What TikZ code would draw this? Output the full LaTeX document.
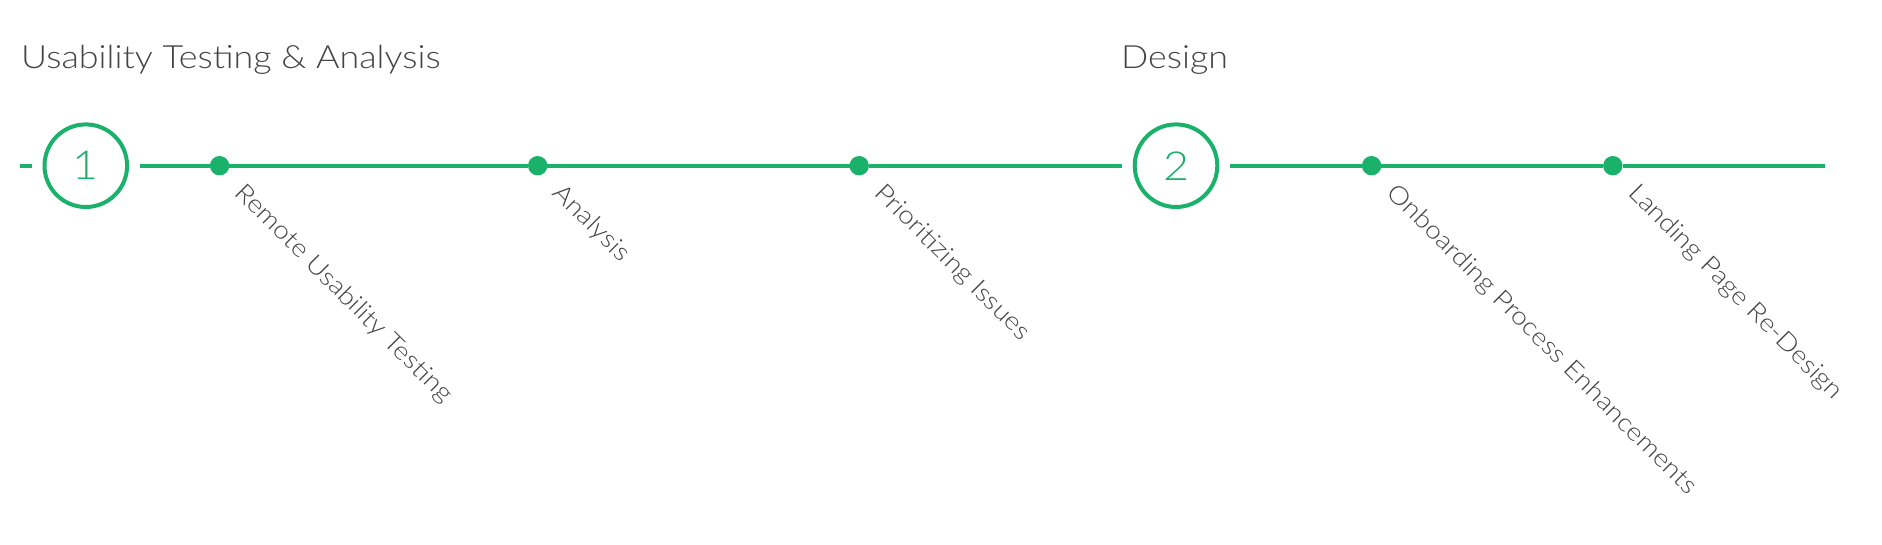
\documentclass[tikz,border=0pt]{standalone}
\usepackage{fontspec}
\setmainfont{Lato Light}[FakeStretch=1.12]
\definecolor{tlgreen}{HTML}{1AB26B}
\definecolor{tltext}{HTML}{444444}
\begin{document}
\begin{tikzpicture}[x=1pt,y=1pt,
  phase/.style={circle,draw=tlgreen,line width=4pt,minimum size=82.6pt,inner sep=0pt,outer sep=12.9pt,text=tlgreen,font=\fontsize{40}{48}\selectfont},
  milestone/.style={circle,fill=tlgreen,minimum size=19.4pt,inner sep=0pt,outer sep=0pt},
  track/.style={draw=tlgreen,line width=4pt},
  title/.style={anchor=base west,inner sep=0pt,text=tltext,font=\fontsize{32}{38}\selectfont},
  label/.style={anchor=base west,inner sep=0pt,rotate=-45,text=tltext,font=\fontsize{25}{30}\selectfont}]
\useasboundingbox[fill=white] (0,0) rectangle (1882,-544);
\node[title] (t1) at (21,-68) {Usability Testing \& Analysis};
\node[title] (t2) at (1121,-68) {Design};
\coordinate (s0) at (20,-165.7);
\coordinate (e0) at (1825,-165.7);
\node[phase] (c1) at (85.8,-165.7) {1};
\node[phase] (c2) at (1176,-165.7) {2};
\node[milestone] (d1) at (219.6,-165.7) {};
\node[milestone] (d2) at (537.7,-165.7) {};
\node[milestone] (d3) at (859.2,-165.7) {};
\node[milestone] (d4) at (1371.6,-165.7) {};
\node[milestone] (d5) at (1612.8,-165.7) {};
\draw[track] (s0) -- (c1);
\draw[track] (c1) -- (d1);
\draw[track] (d1) -- (d2);
\draw[track] (d2) -- (d3);
\draw[track] (d3) -- (c2);
\draw[track] (c2) -- (d4);
\draw[track] (d4) -- (d5);
\draw[track] (d5) -- (e0);
\node[label] (l1) at ([shift={(14.1,-28.3)}]d1.center) {Remote Usability Testing};
\node[label] (l2) at ([shift={(14.1,-28.3)}]d2.center) {Analysis};
\node[label] (l3) at ([shift={(14.1,-28.3)}]d3.center) {Prioritizing Issues};
\node[label] (l4) at ([shift={(14.1,-28.3)}]d4.center) {Onboarding Process Enhancements};
\node[label] (l5) at ([shift={(14.1,-28.3)}]d5.center) {Landing Page Re-Design};
\end{tikzpicture}
\end{document}
